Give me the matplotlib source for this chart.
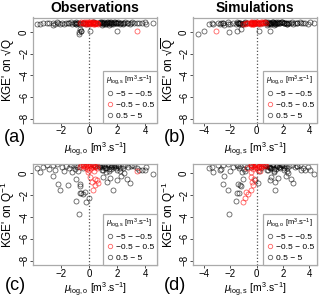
import numpy as np
import matplotlib
matplotlib.use('Agg')
import matplotlib.pyplot as plt
from matplotlib.lines import Line2D

nan = float('nan')

# catchment statistics (observed / simulated log-mean, KGE' on sqrt(Q) and 1/Q)
mu_o = [
    # left tail
    -3.75, -3.30, -3.00, -2.85, -2.60, -2.45, -2.30, -2.20, -2.05, -1.90,
    -1.80, -1.65, -1.48, -1.40, -1.30, -1.20, -1.10, -1.00, -0.95, -0.90,
    -0.85, -0.80, -0.64, -0.64, -0.93, -2.60, -3.50,
    # outliers
    -0.70, -0.60, -0.75, -0.55, -0.65, 2.00, 3.40, 0.10,
    # both near zero
    -0.45, -0.40, -0.35, -0.30, -0.25, -0.20, -0.15, -0.10, -0.05, 0.00,
    0.05, 0.10, 0.15, 0.20, 0.25, 0.30, 0.35, 0.40, 0.45, 0.30,
    0.45, 0.20, 0.40, 0.10, -0.10,
    # sim near zero only
    -0.65, -0.60, 0.55, 0.60, 0.65, 0.55,
    # obs near zero only
    -0.30, -0.20, 0.00, -0.40, 0.35, 0.45, -0.45, 0.25,
    # main cluster
    0.70, 0.75, 0.80, 0.85, 0.90, 0.95, 1.00, 1.05, 1.10, 1.15,
    1.20, 1.25, 1.30, 1.35, 1.40, 1.45, 1.50, 1.55, 1.60, 1.65,
    1.70, 1.75, 1.80, 1.85, 1.90, 1.95, 2.00, 2.05, 2.10, 2.20,
    2.30, 2.40, 2.50, 2.60, 2.70, 2.80, 2.90, 3.00, 1.00, 1.20,
    1.40, 1.60, 2.20, 2.45, 0.90,
    # right tail
    3.20, 3.40, 3.60, 3.75, 4.00, 4.10, 4.60, 3.10,
]
mu_s = [
    -3.60, -3.40, -2.95, -2.70, -2.55, -2.80, -2.20, -2.57, -2.19, -1.80,
    -2.06, -1.42, -1.30, -1.35, -1.50, -1.10, -1.25, -0.95, -0.85, -1.05,
    -0.75, -0.90, -1.35, -1.40, -1.60, -2.45, -3.30,
    -4.50, -4.00, -2.10, -1.50, -1.20, 1.00, 0.20, -3.10,
    -0.40, -0.30, -0.45, -0.20, -0.35, -0.10, -0.25, 0.00, -0.15, 0.10,
    -0.05, 0.20, 0.05, 0.30, 0.15, 0.40, 0.25, 0.45, 0.35, -0.40,
    -0.30, -0.35, -0.20, -0.45, -0.45,
    -0.45, -0.20, 0.45, 0.30, 0.10, -0.10,
    -0.80, -1.05, -0.90, -0.65, 0.60, 0.70, -0.70, 0.55,
    0.80, 0.60, 0.95, 0.70, 1.05, 0.85, 1.10, 0.95, 1.25, 1.00,
    1.30, 1.15, 1.40, 1.25, 1.55, 1.35, 1.60, 1.45, 1.70, 1.55,
    1.40, 1.85, 1.70, 1.95, 1.80, 2.05, 2.10, 1.95, 2.20, 2.10,
    2.25, 2.50, 2.40, 2.70, 2.60, 2.90, 2.75, 3.05, 0.90, 1.10,
    1.30, 1.50, 2.30, 2.35, 0.80,
    3.10, 3.50, 3.40, 3.70, 4.10, 3.90, 4.35, 3.30,
]
kge_sqrt = [
    0.75, 0.80, 0.85, 0.78, 0.85, 0.72, 0.88, 0.80, 0.70, 0.83,
    0.75, 0.86, 0.78, 0.82, 0.88, 0.76, 0.85, 0.80, 0.90, 0.74,
    0.86, 0.82, 0.72, 0.80, 0.70, 0.65, 0.70,
    -0.15, 0.05, -0.05, 0.10, 0.30, 0.05, 0.10, 0.10,
    0.85, 0.80, 0.90, 0.75, 0.88, 0.82, 0.70, 0.92, 0.86, 0.80,
    0.90, 0.84, 0.78, 0.88, 0.82, 0.92, 0.76, 0.86, 0.80, 0.70,
    0.74, 0.78, 0.80, 0.72, 0.85,
    0.82, 0.88, 0.86, 0.80, 0.75, 0.78,
    0.78, 0.74, 0.70, 0.82, 0.90, 0.85, 0.80, 0.88,
    0.85, 0.90, 0.78, 0.88, 0.82, 0.92, 0.80, 0.86, 0.90, 0.76,
    0.84, 0.88, 0.80, 0.92, 0.85, 0.78, 0.88, 0.90, 0.82, 0.86,
    0.72, 0.88, 0.84, 0.90, 0.80, 0.86, 0.82, 0.88, 0.84, 0.80,
    0.86, 0.82, 0.78, 0.88, 0.80, 0.84, 0.76, 0.86, 0.70, 0.74,
    0.68, 0.72, 0.70, 0.74, 0.66,
    0.85, 0.78, 0.82, 0.80, 0.88, 0.75, 0.85, 0.90,
]
kge_inv = [
    0.50, 0.55, 0.80, 0.40, 0.75, 0.30, 0.85, -0.95, -1.50, 0.60,
    0.20, 0.70, -1.07, 0.45, 0.80, 0.10, 0.65, 0.40, 0.75, -0.50,
    0.55, 0.25, -1.80, -0.95, -2.54, -0.20, 0.10,
    nan, nan, -3.70, -1.80, -1.20, -0.60, 0.20, nan,
    0.75, 0.65, 0.80, 0.55, 0.70, 0.85, 0.40, 0.78, 0.62, 0.30,
    0.82, 0.70, 0.50, 0.85, 0.60, 0.75, 0.20, 0.68, 0.55, -1.50,
    -1.05, -0.80, -0.50, -0.30, 0.10,
    0.60, 0.75, 0.72, 0.50, -0.90, -0.60,
    -1.70, -2.60, -2.30, -1.90, 0.80, 0.70, 0.50, 0.75,
    0.70, 0.80, 0.55, 0.75, 0.60, 0.85, -0.30, 0.70, 0.80, 0.45,
    0.10, 0.75, -0.80, 0.85, 0.65, 0.40, -0.40, 0.80, 0.55, 0.70,
    -1.55, 0.80, 0.60, 0.75, 0.45, 0.70, 0.30, 0.80, 0.65, 0.50,
    -0.20, 0.70, 0.00, 0.75, -0.50, 0.60, -0.90, 0.70, 0.35, 0.50,
    0.20, 0.40, 0.25, 0.50, 0.30,
    0.70, 0.50, 0.30, 0.35, 0.27, 0.60, -0.10, 0.80,
]

class_labels = ['\u22125 \u2212 \u22120.5', '\u22120.5 \u2212 0.5', '0.5 \u2212 5']
panel_titles = ['Observations', 'Simulations']
panel_letters = ['(a)', '(b)', '(c)', '(d)']

mu_o = np.array(mu_o); mu_s = np.array(mu_s)
kge_sqrt = np.array(kge_sqrt); kge_inv = np.array(kge_inv)

plt.rcParams['font.family'] = ['Liberation Sans', 'DejaVu Sans']
plt.rcParams['mathtext.fontset'] = 'custom'
plt.rcParams['mathtext.rm'] = 'Liberation Sans'
plt.rcParams['mathtext.it'] = 'Liberation Sans:italic'
plt.rcParams['mathtext.bf'] = 'Liberation Sans:bold'

W, H = 320, 298
fig = plt.figure(figsize=(W / 100, H / 100), dpi=100)

def px_axes(l, t, r, b):
    return fig.add_axes([l / W, 1 - b / H, (r - l) / W, (b - t) / H])

sub_o = r'$\mu_{\mathrm{log,o}}$ [m$^{3}$.s$^{-1}$]'
sub_s = r'$\mu_{\mathrm{log,s}}$ [m$^{3}$.s$^{-1}$]'
ylab_sqrt = "KGE' on \u221a" + r"$\overline{\mathrm{Q}}$"
ylab_inv = r"KGE' on Q$^{-1}$"

panels = [
    # x, y, colour variable, box, xlim, ylim, xticks, xlabel, legend title, ylabel
    (mu_o, kge_sqrt, mu_s, (33, 17.5, 157, 122.5), (-4.0, 4.85), (-8.35, 1.33), [-2, 0, 2, 4], sub_o, sub_s, ylab_sqrt),
    (mu_s, kge_sqrt, mu_o, (193, 17.5, 317, 122.5), (-4.85, 4.6), (-8.35, 1.33), [-4, -2, 0, 2, 4], sub_s, sub_o, ylab_sqrt),
    (mu_o, kge_inv, mu_s, (33, 164, 157, 265), (-4.0, 4.85), (-8.4, 0.86), [-2, 0, 2, 4], sub_o, sub_s, ylab_inv),
    (mu_s, kge_inv, mu_o, (193, 164, 317, 265), (-4.85, 4.6), (-8.4, 0.86), [-4, -2, 0, 2, 4], sub_s, sub_o, ylab_inv),
]

grey = (0, 0, 0, 0.62)
red = (1, 0, 0, 0.62)
ms = 3.6

for i, (x, y, c, box, xl, yl, xt, xlab, ltitle, ylab) in enumerate(panels):
    ax = px_axes(*box)
    mid = (c >= -0.5) & (c <= 0.5)
    ax.axvline(0, color='#555555', ls=(0, (1, 1.6)), lw=0.9, zorder=1)
    ax.plot(x[~mid], y[~mid], ls='none', marker='o', ms=ms, mfc='none', mec=grey, mew=0.6, zorder=2)
    ax.plot(x[mid], y[mid], ls='none', marker='o', ms=ms, mfc='none', mec=red, mew=0.6, zorder=3)
    ax.set_xlim(*xl); ax.set_ylim(*yl)
    ax.set_xticks(xt); ax.set_yticks([0, -2, -4, -6, -8])
    ax.set_xticklabels([('\u2212%d' % -v) if v < 0 else '%d' % v for v in xt])
    ax.set_yticklabels(['0', '\u22122', '\u22124', '\u22126', '\u22128'], rotation=90, va='center')
    ax.tick_params(length=2.2, width=0.6, labelsize=7, pad=0.6, color='#333333')
    for s in ax.spines.values():
        s.set_color('#aaaaaa'); s.set_linewidth(0.9)
    ax.set_ylabel(ylab, fontsize=8.5)
    ax.yaxis.set_label_coords(-0.125, 0.5)
    ax.set_xlabel(xlab, fontsize=7.5)
    ax.xaxis.set_label_coords(0.5, -0.17 if i < 2 else -0.16)
    handles = [Line2D([], [], ls='none', marker='o', ms=3.2, mfc='none', mec=col, mew=0.6)
               for col in (grey, red, grey)]
    leg = ax.legend(handles, class_labels, title=ltitle, loc='lower right', borderaxespad=0,
                    fancybox=False, edgecolor='#aaaaaa', fontsize=6, title_fontsize=5.5,
                    handletextpad=0.2, handlelength=1.0, labelspacing=0.35, borderpad=0.35,
                    alignment='left', framealpha=1)
    leg.get_frame().set_linewidth(0.9)
    ly = box[3] + (15 if i < 2 else 20)
    fig.text((box[0] - 18) / W, 1 - ly / H, panel_letters[i], fontsize=13, ha='center', va='center')

fig.text(95 / W, 1 - 8 / H, panel_titles[0], fontsize=10, fontweight='bold', ha='center', va='center')
fig.text(255 / W, 1 - 8 / H, panel_titles[1], fontsize=10, fontweight='bold', ha='center', va='center')

fig.savefig('out.png', dpi=100)
